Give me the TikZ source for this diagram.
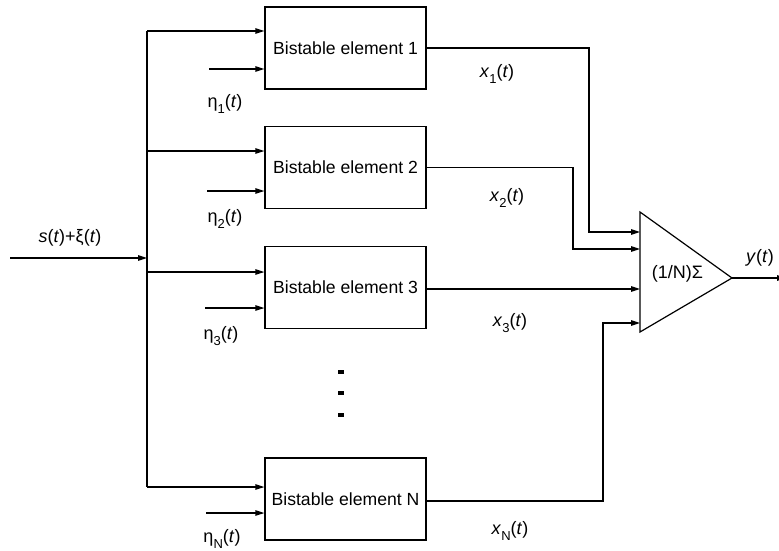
\documentclass[tikz,border=0pt]{standalone}
\usepackage{fontspec}
\setmainfont{Liberation Sans}
\usetikzlibrary{arrows.meta,calc}
\newcommand{\lowsub}[1]{\raisebox{-6pt}{\fontsize{13}{13}\selectfont #1}}
\begin{document}
\begin{tikzpicture}[x=1pt,y=-1pt,
  line width=1.2pt,
  arr/.style={-{Triangle[length=9pt,width=5.5pt]}},
  block/.style={draw,rectangle,minimum width=161pt,minimum height=82pt,inner sep=0pt,font=\fontsize{17.6}{20}\selectfont},
  lbl/.style={inner sep=0pt,font=\fontsize{18}{20}\selectfont},
  dot/.style={fill=black,minimum width=6pt,minimum height=4pt,inner sep=0pt}]
\useasboundingbox (0,0) rectangle (779,551);
% blocks
\node[block] (b1) at (345.5,48) {Bistable element 1};
\node[block] (b2) at (345.5,167.5) {Bistable element 2};
\node[block] (b3) at (345.5,287.5) {Bistable element 3};
\node[block] (bN) at (345.5,499) {Bistable element N};
% dots
\node[dot] (d1) at (341,372) {};
\node[dot] (d2) at (341,393) {};
\node[dot] (d3) at (341,415) {};
% input
\coordinate (src) at (10,258);
\coordinate (bus) at (147,258);
\coordinate (busT) at (147,31);
\coordinate (bus2) at (147,151);
\coordinate (bus3) at (147,272);
\coordinate (busB) at (147,487);
\draw[arr] (src) -- (bus);
\draw (busT) -- (busB);
\draw[arr] (busT) -- (busT -| b1.west);
\draw[arr] (bus2) -- (bus2 -| b2.west);
\draw[arr] (bus3) -- (bus3 -| b3.west);
\draw[arr] (busB) -- (busB -| bN.west);
% noise inputs
\coordinate (n1) at (209,69);
\coordinate (n2) at (207,191);
\coordinate (n3) at (205,308);
\coordinate (nN) at (206,513);
\draw[arr] (n1) -- (n1 -| b1.west);
\draw[arr] (n2) -- (n2 -| b2.west);
\draw[arr] (n3) -- (n3 -| b3.west);
\draw[arr] (nN) -- (nN -| bN.west);
% summing triangle
\coordinate (tl) at (640,212);
\coordinate (bl) at (640,332);
\coordinate (ap) at (732,278);
\draw[line join=miter] (tl) -- (ap) -- (bl) -- cycle;
\node[lbl] (sum) at (677.5,274) {(1/N)Σ};
% outputs
\coordinate (in1) at (640,232);
\coordinate (in2) at (640,249);
\coordinate (in3) at (640,289);
\coordinate (inN) at (640,323);
\coordinate (c1) at (589,232);
\coordinate (c2) at (573,249);
\coordinate (cN) at (603,323);
\draw[arr] (b1.east) -| (c1) -- (in1);
\draw[arr] (b2.east) -| (c2) -- (in2);
\draw[arr] (b3.east |- in3) -- (in3);
\draw[arr] (bN.east |- 0,501) -| (cN) -- (inN);
\coordinate (yout) at (786,278);
\draw[arr] (ap) -- (yout);
% labels
\node[lbl] (ls) at (70,238) {\textit{s}(\textit{t})+ξ(\textit{t})};
\node[lbl] (le1) at (225,104) {η\lowsub{1}(\textit{t})};
\node[lbl] (le2) at (225,219) {η\lowsub{2}(\textit{t})};
\node[lbl] (le3) at (221,336) {η\lowsub{3}(\textit{t})};
\node[lbl] (leN) at (222,539) {η\lowsub{N}(\textit{t})};
\node[lbl] (lx1) at (497,74) {\textit{x}\lowsub{1}(\textit{t})};
\node[lbl] (lx2) at (507,198) {\textit{x}\lowsub{2}(\textit{t})};
\node[lbl] (lx3) at (510,323) {\textit{x}\lowsub{3}(\textit{t})};
\node[lbl] (lxN) at (510,531) {\textit{x}\lowsub{N}(\textit{t})};
\node[lbl] (ly) at (760,258) {\textit{y}(\textit{t})};
\end{tikzpicture}
\end{document}
